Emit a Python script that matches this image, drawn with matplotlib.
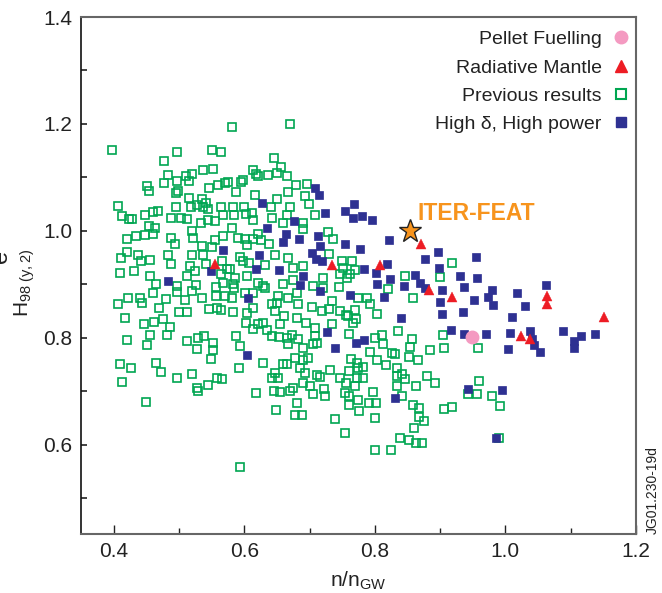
import matplotlib
matplotlib.use("Agg")
import matplotlib.pyplot as plt
from matplotlib.lines import Line2D

plt.rcParams["font.family"] = ["Liberation Sans", "DejaVu Sans"]
plt.rcParams["mathtext.fontset"] = "custom"
plt.rcParams["mathtext.rm"] = "Liberation Sans"
plt.rcParams["mathtext.it"] = "Liberation Sans"

# Previous results (open green squares)
prev_x = [
    0.581, 0.397, 0.497, 0.551, 0.564, 0.477, 0.483, 0.451, 0.454, 0.477,
    0.497, 0.499, 0.495, 0.511, 0.515, 0.520, 0.537, 0.552, 0.546, 0.560,
    0.571, 0.575, 0.587, 0.598, 0.595, 0.613, 0.621, 0.618, 0.636, 0.646,
    0.656, 0.666, 0.650, 0.670, 0.617, 0.650, 0.407, 0.413, 0.424, 0.428,
    0.448, 0.460, 0.468, 0.495, 0.515, 0.518, 0.528, 0.535, 0.537, 0.544,
    0.541, 0.488, 0.503, 0.512, 0.520, 0.534, 0.544, 0.555, 0.564, 0.568,
    0.583, 0.584, 0.600, 0.603, 0.612, 0.613, 0.641, 0.642, 0.659, 0.665,
    0.420, 0.434, 0.448, 0.460, 0.463, 0.454, 0.488, 0.494, 0.522, 0.535,
    0.551, 0.555, 0.568, 0.581, 0.590, 0.601, 0.604, 0.613, 0.621, 0.626,
    0.638, 0.647, 0.420, 0.411, 0.437, 0.442, 0.456, 0.483, 0.488, 0.520,
    0.517, 0.537, 0.541, 0.566, 0.578, 0.594, 0.598, 0.607, 0.632, 0.410,
    0.431, 0.456, 0.512, 0.525, 0.564, 0.574, 0.586, 0.604, 0.465, 0.460,
    0.422, 0.440, 0.443, 0.407, 0.470, 0.480, 0.497, 0.497, 0.520, 0.526,
    0.535, 0.557, 0.557, 0.568, 0.571, 0.583, 0.581, 0.584, 0.621, 0.629,
    0.632, 0.613, 0.601, 0.659, 0.652, 0.642, 0.650, 0.667, 0.417, 0.447,
    0.462, 0.476, 0.486, 0.482, 0.456, 0.420, 0.451, 0.500, 0.512, 0.509,
    0.546, 0.558, 0.564, 0.583, 0.604, 0.603, 0.613, 0.613, 0.621, 0.629,
    0.635, 0.647, 0.661, 0.642, 0.653, 0.665, 0.667, 0.512, 0.529, 0.538,
    0.552, 0.552, 0.528, 0.549, 0.587, 0.594, 0.592, 0.629, 0.410, 0.427,
    0.465, 0.473, 0.413, 0.497, 0.520, 0.528, 0.529, 0.545, 0.558, 0.566,
    0.450, 0.618, 0.642, 0.652, 0.647, 0.659, 0.665, 0.646, 0.655, 0.649,
    0.670, 0.594, 0.679, 0.696, 0.693, 0.699, 0.670, 0.708, 0.690, 0.690,
    0.728, 0.736, 0.730, 0.675, 0.690, 0.750, 0.765, 0.751, 0.762, 0.747,
    0.721, 0.705, 0.721, 0.745, 0.770, 0.757, 0.675, 0.681, 0.682, 0.704,
    0.719, 0.734, 0.730, 0.747, 0.759, 0.770, 0.774, 0.788, 0.793, 0.803,
    0.820, 0.846, 0.858, 0.900, 0.918, 0.767, 0.771, 0.756, 0.695, 0.681,
    0.655, 0.708, 0.734, 0.667, 0.667, 0.673, 0.682, 0.708, 0.705, 0.690,
    0.711, 0.760, 0.800, 0.811, 0.813, 0.836, 0.857, 0.854, 0.904, 0.884,
    0.906, 0.958, 0.793, 0.803, 0.826, 0.831, 0.817, 0.852, 0.866, 0.834,
    0.834, 0.842, 0.846, 0.834, 0.842, 0.863, 0.880, 0.892, 0.858, 0.868,
    0.868, 0.875, 0.860, 0.906, 0.918, 0.839, 0.852, 0.863, 0.872, 0.825,
    0.800, 0.754, 0.739, 0.800, 0.797, 0.802, 0.791, 0.776, 0.774, 0.760,
    0.760, 0.754, 0.770, 0.782, 0.773, 0.756, 0.760, 0.774, 0.773, 0.782,
    0.764, 0.747, 0.731, 0.722, 0.724, 0.705, 0.711, 0.716, 0.693, 0.698,
    0.690, 0.685, 0.678, 0.675, 0.681, 0.690, 0.701, 0.678, 0.688, 0.960,
    0.943, 0.956, 0.979, 0.992, 0.990,
]
prev_y = [
    1.194, 1.152, 1.147, 1.152, 1.147, 1.130, 1.104, 1.083, 1.075, 1.090,
    1.094, 1.075, 1.070, 1.102, 1.094, 1.107, 1.113, 1.115, 1.081, 1.085,
    1.089, 1.091, 1.072, 1.096, 1.092, 1.113, 1.102, 1.107, 1.104, 1.136,
    1.120, 1.102, 1.109, 1.199, 1.068, 1.059, 1.047, 1.027, 1.023, 1.023,
    1.029, 1.036, 1.038, 1.044, 1.062, 1.045, 1.049, 1.059, 1.045, 1.040,
    1.053, 1.025, 1.025, 1.023, 1.000, 1.015, 1.021, 1.019, 1.044, 1.029,
    1.045, 1.030, 1.044, 1.032, 1.034, 1.021, 1.044, 1.025, 1.015, 1.029,
    0.985, 0.991, 0.993, 0.995, 1.006, 1.010, 0.987, 0.976, 0.987, 0.972,
    0.969, 0.982, 0.991, 1.006, 0.987, 0.985, 0.974, 0.985, 0.995, 0.982,
    0.976, 0.954, 0.961, 0.950, 0.955, 0.944, 0.946, 0.954, 0.938, 0.955,
    0.935, 0.954, 0.938, 0.944, 0.929, 0.952, 0.944, 0.940, 0.937, 0.922,
    0.924, 0.916, 0.916, 0.925, 0.920, 0.929, 0.912, 0.916, 0.901, 0.884,
    0.875, 0.875, 0.865, 0.864, 0.856, 0.873, 0.897, 0.886, 0.888, 0.899,
    0.875, 0.895, 0.879, 0.903, 0.879, 0.901, 0.875, 0.894, 0.903, 0.897,
    0.894, 0.884, 0.884, 0.901, 0.879, 0.864, 0.865, 0.875, 0.837, 0.826,
    0.830, 0.835, 0.820, 0.805, 0.805, 0.796, 0.787, 0.849, 0.849, 0.871,
    0.854, 0.856, 0.852, 0.849, 0.847, 0.828, 0.856, 0.817, 0.826, 0.828,
    0.815, 0.850, 0.841, 0.803, 0.802, 0.800, 0.788, 0.794, 0.800, 0.804,
    0.791, 0.777, 0.779, 0.760, 0.804, 0.785, 0.743, 0.753, 0.751, 0.743,
    0.753, 0.736, 0.717, 0.725, 0.732, 0.706, 0.700, 0.712, 0.725, 0.723,
    0.680, 0.697, 0.725, 0.725, 0.734, 0.751, 0.751, 0.700, 0.698, 0.665,
    0.700, 0.558, 1.085, 1.087, 1.066, 1.051, 1.044, 1.029, 1.015, 1.004,
    0.997, 0.985, 0.957, 0.931, 0.935, 0.944, 0.944, 0.931, 0.920, 0.920,
    0.912, 0.897, 0.894, 0.895, 0.927, 0.912, 0.909, 0.884, 0.864, 0.858,
    0.850, 0.869, 0.854, 0.850, 0.841, 0.852, 0.875, 0.875, 0.864, 0.845,
    0.892, 0.916, 0.875, 0.914, 0.939, 0.828, 0.835, 0.843, 0.828, 0.837,
    0.826, 0.818, 0.826, 1.072, 0.950, 0.805, 0.798, 0.803, 0.788, 0.781,
    0.790, 0.807, 0.800, 0.805, 0.788, 0.813, 0.798, 0.783, 0.805, 0.777,
    0.781, 0.781, 0.774, 0.758, 0.772, 0.769, 0.749, 0.764, 0.758, 0.743,
    0.728, 0.732, 0.723, 0.710, 0.691, 0.710, 0.728, 0.715, 0.674, 0.668,
    0.652, 0.644, 0.631, 0.667, 0.670, 0.612, 0.608, 0.603, 0.603, 0.591,
    0.590, 0.622, 0.648, 0.650, 0.698, 0.678, 0.678, 0.663, 0.683, 0.674,
    0.691, 0.697, 0.710, 0.725, 0.725, 0.715, 0.738, 0.743, 0.752, 0.745,
    0.760, 0.725, 0.740, 0.704, 0.691, 0.695, 0.730, 0.727, 0.734, 0.762,
    0.758, 0.743, 0.762, 0.706, 0.678, 0.715, 0.710, 0.655, 0.655, 0.719,
    0.695, 0.695, 0.691, 0.672, 0.612,
]

# High delta, high power (filled blue squares)
high_x = [
    0.708, 0.714, 0.724, 0.754, 0.768, 0.766, 0.780, 0.796, 0.676, 0.664,
    0.659, 0.684, 0.713, 0.716, 0.754, 0.777, 0.822, 0.704, 0.710, 0.719,
    0.653, 0.690, 0.685, 0.716, 0.762, 0.783, 0.818, 0.802, 0.823, 0.803,
    0.814, 0.844, 0.861, 0.869, 0.877, 0.877, 0.897, 0.898, 0.903, 0.930,
    0.936, 0.900, 0.903, 0.935, 0.840, 0.727, 0.917, 0.936, 0.783, 0.771,
    0.739, 0.955, 0.956, 0.979, 0.973, 0.952, 0.981, 1.062, 1.018, 1.030,
    1.010, 0.970, 1.007, 1.037, 1.040, 1.044, 1.053, 1.004, 1.088, 1.116,
    1.105, 1.105, 1.137, 0.627, 0.635, 0.567, 0.623, 0.618, 0.549, 0.483,
    0.606, 0.604, 0.831, 0.943, 0.995, 0.986,
]
high_y = [
    1.081, 1.068, 1.034, 1.038, 1.051, 1.025, 1.027, 1.021, 1.019, 0.995,
    0.980, 0.984, 0.991, 0.972, 0.976, 0.967, 0.982, 0.959, 0.948, 0.944,
    0.927, 0.916, 0.899, 0.888, 0.880, 0.929, 0.938, 0.922, 0.910, 0.901,
    0.877, 0.897, 0.918, 0.903, 0.893, 0.948, 0.961, 0.931, 0.890, 0.916,
    0.895, 0.867, 0.845, 0.848, 0.837, 0.811, 0.815, 0.807, 0.796, 0.790,
    0.781, 0.952, 0.912, 0.890, 0.877, 0.871, 0.862, 0.899, 0.884, 0.860,
    0.839, 0.807, 0.809, 0.813, 0.798, 0.787, 0.773, 0.779, 0.813, 0.803,
    0.794, 0.781, 0.807, 1.053, 1.006, 0.965, 0.954, 0.929, 0.925, 0.907,
    0.875, 0.768, 0.687, 0.704, 0.702, 0.612,
]

# Radiative mantle (red triangles)
rad_x = [0.555, 0.734, 0.808, 0.871, 0.883, 0.918, 1.064, 1.064, 1.151, 1.024, 1.038]
rad_y = [0.938, 0.937, 0.937, 0.976, 0.890, 0.877, 0.879, 0.864, 0.839, 0.803, 0.798]

# Pellet fuelling (pink circle)
pellet_x = [0.949]
pellet_y = [0.802]

# ITER-FEAT reference point
iter_x = [0.854]
iter_y = [1.000]

green = "#00a651"
blue = "#2e3192"
red = "#ed1c24"
pink = "#f49ac1"
orange = "#f7941d"

fig = plt.figure(figsize=(6.62, 5.93), dpi=100)
ax = fig.add_axes([0.1224, 0.0995, 0.8383, 0.8718])

ax.plot(prev_x, prev_y, ls="none", marker="s", ms=6.3, mfc="none",
        mec=green, mew=1.2)
ax.plot(high_x, high_y, ls="none", marker="s", ms=6.2, mfc=blue, mec=blue, mew=0.5)
ax.plot(rad_x, rad_y, ls="none", marker="^", ms=7.5, mfc=red, mec=red, mew=0.3)
ax.plot(pellet_x, pellet_y, ls="none", marker="o", ms=9, mfc=pink, mec=pink)
ax.plot(iter_x, iter_y, ls="none", marker="*", ms=17, mfc=orange, mec="#222222", mew=1.0)
ax.text(0.866, 1.032, "ITER-FEAT", color=orange, fontsize=16.5, fontweight="bold",
        ha="left", va="center")

ax.set_xlim(0.35, 1.2)
ax.set_ylim(0.433, 1.4)
ax.set_xticks([0.4, 0.6, 0.8, 1.0, 1.2])
ax.set_xticks([0.5, 0.7, 0.9, 1.1], minor=True)
ax.set_yticks([0.6, 0.8, 1.0, 1.2, 1.4])
ax.set_yticks([0.5, 0.7, 0.9, 1.1, 1.3], minor=True)
ax.tick_params(axis="both", which="both", direction="in", labelsize=15,
               labelcolor="#222222", color="#222222")
ax.tick_params(axis="x", which="major", length=6.5, width=1.0, pad=6)
ax.tick_params(axis="x", which="minor", length=4, width=1.0)
ax.tick_params(axis="y", which="both", length=4, width=1.2, pad=6)

for side in ["top", "right", "bottom"]:
    ax.spines[side].set_color("#666666")
    ax.spines[side].set_linewidth(1.5)
ax.spines["left"].set_color("#111111")
ax.spines["left"].set_linewidth(1.2)

ax.set_xlabel(r"n/n$_{\mathrm{GW}}$", fontsize=15, color="#222222", labelpad=6)
ax.set_ylabel(r"H$_{98\ (y,2)}$", fontsize=15, color="#222222")
ax.yaxis.set_label_coords(-0.079, 0.485)
# fragment of an axis label cut at the left edge in the original figure
fig.text(0.018, 0.568, "e", fontsize=17, rotation=90, ha="right", va="center",
         color="#222222")
fig.text(0.986, 0.1, "JG01.230-19d", fontsize=10, rotation=90, ha="center",
         va="bottom", color="#222222")

handles = [
    Line2D([], [], ls="none", marker="o", ms=9, mfc=pink, mec=pink),
    Line2D([], [], ls="none", marker="^", ms=8, mfc=red, mec=red),
    Line2D([], [], ls="none", marker="s", ms=7, mfc="none", mec=green, mew=1.5),
    Line2D([], [], ls="none", marker="s", ms=7, mfc=blue, mec=blue),
]
labels = ["Pellet Fuelling", "Radiative Mantle", "Previous results",
          "High \u03b4, High power"]
ax.legend(handles, labels, loc="upper right", bbox_to_anchor=(1.012, 1.0),
          frameon=False, markerfirst=False, fontsize=14, handlelength=0.8,
          handletextpad=0.6, labelspacing=0.55, borderaxespad=0.3,
          labelcolor="#222222")

fig.savefig("out.png", dpi=100)
